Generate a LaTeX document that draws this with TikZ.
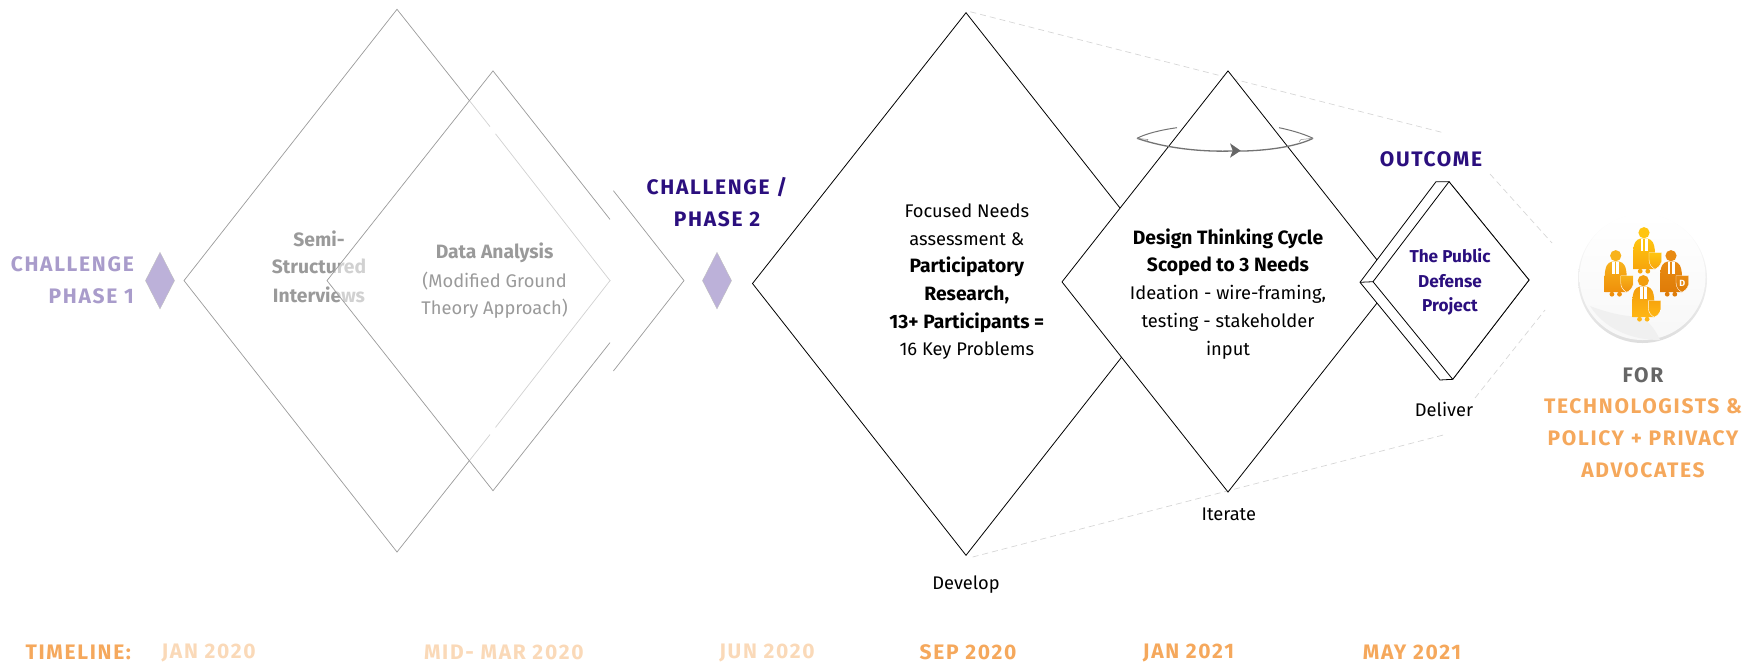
\documentclass[tikz,border=0pt]{standalone}
\usepackage{fontspec}
\setmainfont{Fira Sans}
\newfontfamily\headfont[LetterSpace=8]{Fira Sans}
\usetikzlibrary{arrows.meta}
\definecolor{deep}{HTML}{2B0F7E}
\definecolor{pale}{HTML}{A99CCB}
\definecolor{tang}{HTML}{F5A85C}
\definecolor{tangfaint}{HTML}{FAD9B8}
\definecolor{fadegray}{HTML}{9A9A9A}
\definecolor{smallfill}{HTML}{BCB1D9}
\definecolor{goldA}{HTML}{F8B31C}
\definecolor{goldB}{HTML}{EF8F0A}
\definecolor{goldC}{HTML}{FFC510}
\definecolor{goldD}{HTML}{F7A50C}
\definecolor{goldE}{HTML}{E88A12}
\definecolor{goldF}{HTML}{DF7C08}
\definecolor{goldG}{HTML}{F39E0E}
\definecolor{goldH}{HTML}{FFB614}
\tikzset{
  x=1pt,y=-1pt,
  oldline/.style={draw=fadegray,line width=.7pt},
  newline/.style={draw=black,line width=.8pt,line join=miter},
  dashline/.style={draw=black!16,line width=.7pt,dash pattern=on 6pt off 4pt},
  smalld/.style={fill=smallfill,draw=black!25,line width=.4pt},
  body/.style={font=\fontsize{18.3}{22}\selectfont,align=center,inner sep=0pt,text=black},
  boldbody/.style={body,font=\bfseries\fontsize{19.3}{22}\selectfont},
  oldbody/.style={body,text=fadegray},
  oldbold/.style={boldbody,text=fadegray},
  projtext/.style={body,text=deep,font=\bfseries\fontsize{17.2}{20}\selectfont},
  head/.style={font=\headfont\bfseries\fontsize{21}{24}\selectfont,align=center,inner sep=0pt},
  tl/.style={head,text=tang},
  tlf/.style={head,text=tangfaint},
  ringline/.style={draw=black!55,line width=1pt},
}
\newcommand{\defender}[5]{%
  \begin{scope}[shift={(#1,#2)}]
    \fill[#3] (0,0) circle (5.6);
    \fill[#4] (-3.8,38.5) circle (2.4) (3.8,38.5) circle (2.4);
    \path[top color=#3,bottom color=#4] (-4,6) -- (4,6) .. controls (8,7) and (10.5,10) .. (11,20) -- (11,36.5) -- (-11,36.5) -- (-11,20) .. controls (-10.5,10) and (-8,7) .. (-4,6) -- cycle;
    \fill[white] (-3.5,6.5) -- (3.5,6.5) -- (3.5,18) -- (-3.5,18) -- cycle;
    \fill[#3] (-.7,6.5) -- (.7,6.5) -- (.7,18) -- (-.7,18) -- cycle;
    \path[top color=#5,bottom color=#4,draw=white,line width=.4pt] (5,20) -- (17.5,20) -- (17.5,29) .. controls (16.5,33) and (13.5,35.5) .. (11,36.5) .. controls (8,35) and (5,32) .. (5,27) -- cycle;
  \end{scope}}
\begin{document}
\begin{tikzpicture}
\useasboundingbox (0,0) rectangle (1746,662);
% old diamonds
\coordinate (a1) at (397,9.3); \coordinate (a2) at (184,280.6); \coordinate (a3) at (397,552); \coordinate (a4) at (610,280.6);
\coordinate (b1) at (493,70.9); \coordinate (b2) at (327,280.6); \coordinate (b3) at (493,490.7); \coordinate (b4) at (684,280.6);
\draw[oldline] (490,126.6) -- (a1) -- (a2) -- (a3) -- (490,434.6);
\draw[oldline] (495.5,133.8) -- (a4) -- (495.5,427.4);
\node[oldbold] (semi) at (319,238.4) {Semi-};
\node[oldbold] (struct) at (319,266.7) {Structured};
\node[oldbold] (inter) at (319,295) {Interviews};
\fill[white,opacity=.55] (b1) -- (b2) -- (b3) -- (610,342.6) -- (610,219.4) -- cycle;
\draw[oldline] (610,219.4) -- (b1) -- (b2) -- (b3) -- (610,342.6);
\draw[oldline] (613.4,190.7) -- (b4) -- (613.4,371);
\node[oldbold] (data) at (494.6,253) {Data Analysis};
\node[oldbody] (mod) at (494.6,280.7) {(Modified Ground};
\node[oldbody] (theory) at (494.6,309) {Theory Approach)};
% small diamonds
\draw[smalld] (160,252.3) -- (174.5,280.6) -- (160,308.9) -- (145.5,280.6) -- cycle;
\draw[smalld] (717,252.3) -- (731.5,280.6) -- (717,308.9) -- (702.5,280.6) -- cycle;
\node[head,text=pale,anchor=east] (ch1) at (134,264.5) {CHALLENGE};
\node[head,text=pale,anchor=east] (ph1) at (134,296) {PHASE 1};
\node[head,text=deep] (ch2) at (717,187.5) {CHALLENGE /};
\node[head,text=deep] (ph2) at (717,219) {PHASE 2};
% dashed funnel
\coordinate (f1) at (970.4,11.8); \coordinate (f2) at (1441.7,132.3); \coordinate (f3) at (1490,174); \coordinate (f4) at (1552,243);
\coordinate (g1) at (972.6,557); \coordinate (g2) at (1443.3,435); \coordinate (g3) at (1475,398); \coordinate (g4) at (1545,310);
\draw[dashline] (f1) -- (f2) (f3) -- (f4) (g1) -- (g2) (g3) -- (g4);
% develop / iterate / deliver
\coordinate (c1) at (966,12.7); \coordinate (c2) at (752.5,283.5); \coordinate (c3) at (966,555.3); \coordinate (c4) at (1179.5,283.5);
\coordinate (d1) at (1228,70.9); \coordinate (d2) at (1062,281.9); \coordinate (d3) at (1228,492); \coordinate (d4) at (1394,281.5);
\draw[newline] (c1) -- (c2) -- (c3) -- (c4) -- cycle;
\draw[newline,fill=white] (d1) -- (d2) -- (d3) -- (d4) -- cycle;
% ring
\draw[ringline] (1177,127.7) .. controls (1160,130) and (1145,134) .. (1137,138.3);
\draw[ringline] (1279,127.7) .. controls (1295,131) and (1306,135) .. (1313,138.3);
\draw[ringline,line width=1.3pt] (1137,138.3) .. controls (1165,148) and (1200,152) .. (1232,151) -- (1245,151) .. controls (1275,150) and (1300,145) .. (1313,138.3);
\draw[draw=black!45,line width=.5pt] (1137,138.3) -- (1148,139.5) -- (1146,142) (1313,138.3) -- (1301,139.5) -- (1299,142);
\fill[black!60] (1230,143.3) -- (1240.7,150.7) -- (1230,157.7) -- (1232.7,150.7) -- cycle;
% deliver diamond
\coordinate (e1) at (1449,181.7); \coordinate (e2) at (1373,281.7); \coordinate (e3) at (1452.7,379.3); \coordinate (e4) at (1529,280);
\coordinate (h1) at (1436,181.7); \coordinate (h2) at (1360,282.3); \coordinate (h3) at (1440,380);
\draw[newline,fill=white] (h1) -- (e1) -- (e4) -- (e3) -- (h3) -- (h2) -- cycle;
\draw[newline,fill=white] (e1) -- (e2) -- (e3) -- (e4) -- cycle;
\draw[newline] (h2) -- (e2);
% texts in diamonds
\node[body] (t1) at (966.8,210.5) {Focused Needs};
\node[body] (t2) at (966.8,239) {assessment \&};
\node[boldbody] (t3) at (966.8,266.5) {Participatory};
\node[boldbody] (t4) at (966.8,294.5) {Research,};
\node[boldbody] (t5) at (966.8,322.5) {13+ Participants =};
\node[body] (t6) at (966.8,350.5) {16 Key Problems};
\node[boldbody] (u1) at (1228,239) {Design Thinking Cycle};
\node[boldbody] (u2) at (1228,266.5) {Scoped to 3 Needs};
\node[body] (u3) at (1228,294.5) {Ideation - wire-framing,};
\node[body] (u4) at (1228,322.5) {testing - stakeholder};
\node[body] (u5) at (1228,350.5) {input};
\node[body] (develop) at (966,585) {Develop};
\node[body] (iterate) at (1228.8,514.5) {Iterate};
\node[body] (deliver) at (1444,409) {Deliver};
\node[head,text=deep] (outcome) at (1431,159) {OUTCOME};
\node[projtext] (p1) at (1450,255.7) {The Public};
\node[projtext] (p2) at (1450,281) {Defense};
\node[projtext] (p3) at (1450,306) {Project};
% icon
\coordinate (ic) at (1642.5,278.5);
\path[top color=white,bottom color=black!13] (ic) circle (64.5);
\path[top color=white,bottom color=black!3] (1642.5,277) circle (63);
\fill[black!6] (1660,340) .. controls (1656,331) and (1650,322) .. (1640,316) .. controls (1625,318) and (1600,310) .. (1590,306) .. controls (1604,328) and (1630,340) .. (1660,340) -- cycle;
\defender{1615.7}{255.7}{goldA}{goldB}{goldA}
\defender{1644}{232.7}{goldC}{goldD}{goldC}
\defender{1671}{255.7}{goldE}{goldF}{goldE}
\defender{1643.3}{280.7}{goldG}{goldH}{goldD}
\node[inner sep=0pt,text=white,font=\bfseries\fontsize{9}{9}\selectfont] (dee) at (1682.3,283) {D};
\node[head,text=black!60] (for) at (1643,375) {FOR};
\node[head,text=tang] (w1) at (1643,406.7) {TECHNOLOGISTS \&};
\node[head,text=tang] (w2) at (1643,438.3) {POLICY + PRIVACY};
\node[head,text=tang] (w3) at (1643,470.7) {ADVOCATES};
% timeline
\node[tl,anchor=west] (tl0) at (25.4,652.5) {TIMELINE:};
\node[tlf] (tl1) at (208.7,652.5) {JAN 2020};
\node[tlf] (tl2) at (503.8,652.5) {MID- MAR 2020};
\node[tlf] (tl3) at (767,652.5) {JUN 2020};
\node[tl] (tl4) at (968,652.5) {SEP 2020};
\node[tl] (tl5) at (1188.5,652.5) {JAN 2021};
\node[tl] (tl6) at (1412,652.5) {MAY 2021};
\end{tikzpicture}
\end{document}
